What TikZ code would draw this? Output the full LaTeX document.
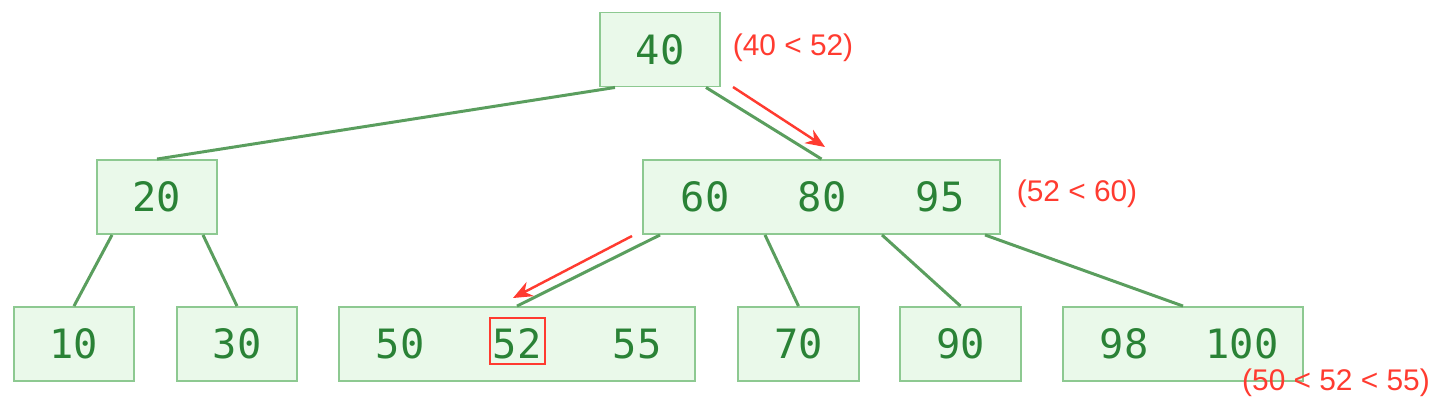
\documentclass[tikz,border=0pt]{standalone}
\usepackage{fontspec}
\setmainfont{Liberation Sans}
\newfontfamily\keyfont{DejaVu Sans Mono}
\usetikzlibrary{arrows.meta, calc, positioning}

\definecolor{boxfill}{HTML}{EAF9EA}
\definecolor{boxline}{HTML}{8DC991}
\definecolor{edgegreen}{HTML}{5A9E5E}
\definecolor{keygreen}{HTML}{2A8236}
\definecolor{hitred}{HTML}{FF3B30}

\begin{document}
\begin{tikzpicture}[
  x=0.02cm, y=-0.02cm,
  >={Stealth[length=11pt, width=9pt]},
  bnode/.style={draw=boxline, line width=1.1pt, fill=boxfill, minimum height=1.48cm, minimum width=2.4cm},
  key/.style={text=keygreen, font=\keyfont\fontsize{23}{26}\selectfont, inner sep=0pt},
  edge/.style={draw=edgegreen, line width=1.7pt},
  hit/.style={draw=hitred, line width=1.5pt, minimum width=1.1cm, minimum height=0.92cm},
  path/.style={->, draw=hitred, line width=1.4pt},
  note/.style={text=hitred, font=\fontsize{17}{20}\selectfont},
]
  \useasboundingbox (0,0) rectangle (1436,400);

  % root and second level
  \node[bnode] (root) at (660,49.5) {};
  \node[key] (k40) at (root) {40};
  \node[bnode] (n20) at (157,197) {};
  \node[key] (k20) at (n20) {20};
  \node[bnode, minimum width=7.14cm] (mid) at (821.5,197) {};
  \node[key] (k60) at (705,197) {60};
  \node[key] (k80) at (822,197) {80};
  \node[key] (k95) at (940,197) {95};

  % leaves
  \node[bnode] (n10) at (74,344) {};
  \node[key] (k10) at (n10) {10};
  \node[bnode] (n30) at (237,344) {};
  \node[key] (k30) at (n30) {30};
  \node[bnode, minimum width=7.12cm] (leaf) at (517,344) {};
  \node[key] (k50) at (400,344) {50};
  \node[key] (k52) at (517,344) {52};
  \node[key] (k55) at (637,344) {55};
  \node[bnode, minimum width=2.42cm] (n70) at (798.5,344) {};
  \node[key] (k70) at (n70) {70};
  \node[bnode, minimum width=2.42cm] (n90) at (960.5,344) {};
  \node[key] (k90) at (n90) {90};
  \node[bnode, minimum width=4.8cm] (last) at (1183,344) {};
  \node[key] (k98) at (1124,344) {98};
  \node[key] (k100) at (1242,344) {100};

  % tree edges
  \draw[edge] ($(root.south)+(-45,0)$) -- (n20.north);
  \draw[edge] ($(root.south)+(46,0)$) -- (mid.north);
  \draw[edge] ($(n20.south)+(-45,0)$) -- (n10.north);
  \draw[edge] ($(n20.south)+(46,0)$) -- (n30.north);
  \draw[edge] ($(mid.south)+(-161.5,0)$) -- (leaf.north);
  \draw[edge] ($(mid.south)+(-56.5,0)$) -- (n70.north);
  \draw[edge] ($(mid.south)+(60.5,0)$) -- (n90.north);
  \draw[edge] ($(mid.south)+(163.5,0)$) -- (last.north);

  % search path
  \node[hit] (found) at (517.5,341) {};
  \coordinate (s1) at (733,87);
  \coordinate (e1) at (825,147);
  \coordinate (s2) at (632,236);
  \coordinate (e2) at (513,298);
  \draw[path] (s1) -- (e1);
  \draw[path] (s2) -- (e2);

  \node[note] (c1) at (793,48) {(40 < 52)};
  \node[note] (c2) at (1077,194) {(52 < 60)};
  \node[note] (c3) at (1336,383) {(50 < 52 < 55)};
\end{tikzpicture}
\end{document}
